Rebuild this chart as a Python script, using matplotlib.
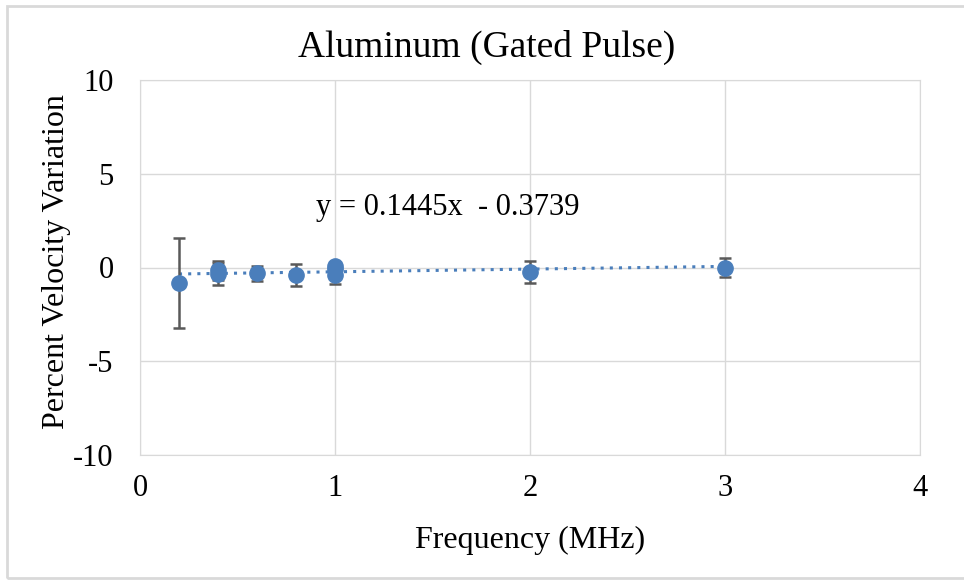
import matplotlib
matplotlib.use("Agg")
import matplotlib.pyplot as plt
import numpy as np
from matplotlib.patches import Rectangle

freq = [0.2, 0.4, 0.4, 0.6, 0.8, 1.0, 1.0, 1.0, 2.0, 3.0]
variation = [-0.8, -0.15, -0.35, -0.3, -0.39, 0.1, -0.1, -0.4, -0.25, 0.0]
errors = [2.4, 0.5, 0.6, 0.4, 0.6, 0.2, 0.3, 0.5, 0.6, 0.5]
slope, intercept = 0.1445, -0.3739
xticks = [0, 1, 2, 3, 4]
yticks = [-10, -5, 0, 5, 10]
ytick_labels = ["-10", "-5", "0", "5", "10"]

plt.rcParams['font.family'] = ['Liberation Serif', 'DejaVu Serif']

W, H = 964, 581
fig = plt.figure(figsize=(W/100, H/100), dpi=100)
ax = fig.add_axes([140/W, 1-455/H, 780/W, 375/H])

grid_c = '#d9d9d9'
ax.set_xlim(0, 4)
ax.set_ylim(-10, 10)
ax.set_xticks(xticks)
ax.set_yticks(yticks)
ax.set_yticklabels(ytick_labels)
ax.grid(True, color=grid_c, linewidth=1)
ax.set_axisbelow(True)
for s in ax.spines.values():
    s.set_color(grid_c)
ax.tick_params(length=0, labelsize=22)
ax.tick_params(axis='x', pad=14)
ax.tick_params(axis='y', pad=19)

xs = np.array([min(freq), max(freq)])
ax.plot(xs, slope*xs + intercept, linestyle=(0, (1, 2)), color='#4a7ebb', linewidth=2.2, zorder=2)
ax.errorbar(freq, variation, yerr=errors, fmt='o', color='#4a7ebb', markersize=11,
            ecolor='#595959', elinewidth=1.8, capsize=4.5, capthick=1.8, zorder=3)

ax.text(0.9, 3.2, f"y = {slope}x  - {abs(intercept)}", fontsize=22, ha='left', va='center')

fig.text(487/W, 1-47/H, "Aluminum (Gated Pulse)", fontsize=27, ha='center', va='center')
fig.text(530/W, 1-540/H, "Frequency (MHz)", fontsize=23, ha='center', va='center')
fig.text(57/W, 1-262/H, "Percent Velocity Variation", fontsize=23, ha='center', va='center',
         rotation=90)

fig.patches.append(Rectangle((7/W, 3/H), 970/W, 572/H, transform=fig.transFigure,
                             fill=False, edgecolor='#d9d9d9', linewidth=2))

fig.savefig("out.png", dpi=100)
